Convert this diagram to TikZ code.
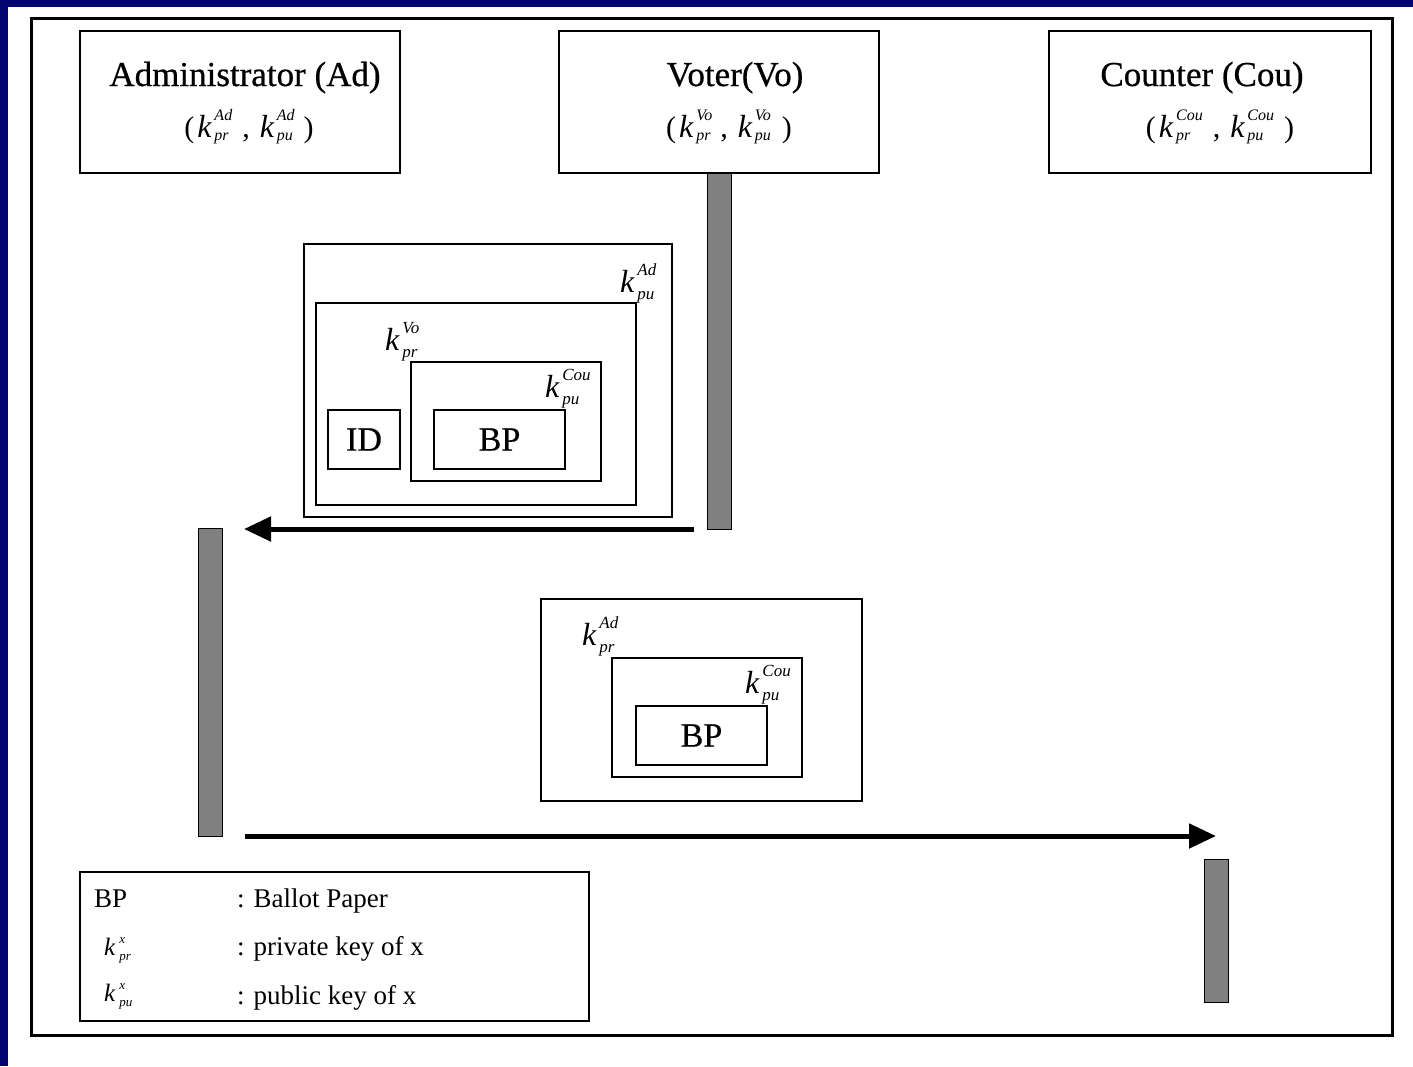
\documentclass[tikz,border=0pt]{standalone}
\usepackage{fontspec}
\setmainfont{Liberation Serif}
\newfontfamily\heavyserif[FakeBold=0.6]{Liberation Serif}
\usetikzlibrary{arrows.meta}
\definecolor{navy}{RGB}{5,5,112}
\definecolor{barGray}{RGB}{128,128,128}
% k with stacked super/subscript: #1 k size, #2 script size, #3 row gap, #4 lowering, #5 gap k-scripts, #6 sup, #7 sub
\newcommand\keyx[7]{{\fontsize{#1}{#1}\selectfont\itshape k}\hspace{#5pt}\raisebox{-#4pt}{\fontsize{#2}{#2}\selectfont\itshape\begin{tabular}[b]{@{}l@{}}#6\\[#3pt]#7\end{tabular}}}
\newcommand\hkey[2]{\keyx{32}{16}{4}{3}{3}{#1}{#2}}
\newcommand\bkey[2]{\keyx{32}{17}{7}{7}{3}{#1}{#2}}
\newcommand\lkey[2]{\keyx{25}{13}{4}{5}{4}{#1}{#2}}
\tikzset{
  panel/.style={draw, line width=1.6pt, inner sep=0pt},
  lifebar/.style={draw, line width=1pt, fill=barGray, inner sep=0pt, minimum width=24pt},
  msg/.style={line width=5pt, -{Triangle[length=27pt,width=24pt]}},
  title/.style={font=\heavyserif\fontsize{35}{40}\selectfont, inner sep=0pt, anchor=base},
  keyline/.style={font=\fontsize{30}{32}\selectfont, inner sep=0pt, anchor=base},
  keylabel/.style={inner sep=0pt, anchor=base west},
  boxtext/.style={font=\heavyserif\fontsize{34}{36}\selectfont, inner sep=0pt},
  legtext/.style={font=\fontsize{27}{30}\selectfont, inner sep=0pt, anchor=base west},
}
\begin{document}
\begin{tikzpicture}[x=1pt,y=-1pt]
\useasboundingbox (0,0) rectangle (1413,1066);
\fill[white] (0,0) rectangle (1413,1066);
\fill[navy] (0,0) rectangle (8,1066);
\fill[navy] (0,0) rectangle (1413,7);
\draw[line width=3pt] (31.5,18.5) rectangle (1392,1035.5);

% actors
\node[panel, minimum width=320pt, minimum height=142pt] (ad) at (240,102) {};
\node[panel, minimum width=320pt, minimum height=142pt] (vo) at (719,102) {};
\node[panel, minimum width=322pt, minimum height=142pt] (cou) at (1210,102) {};
\node[title] (adt) at (245,86) {Administrator (Ad)};
\node[title] (vot) at (735,86) {Voter(Vo)};
\node[title] (cout) at (1202,86) {Counter (Cou)};
\node[keyline] (adk) at (249,137) {(\hspace{3pt}\hkey{Ad}{pr}\hspace{10pt},\hspace{10pt}\hkey{Ad}{pu}\hspace{9pt})};
\node[keyline] (vok) at (729,137) {(\hspace{3pt}\hkey{Vo}{pr}\hspace{8pt},\hspace{10pt}\hkey{Vo}{pu}\hspace{11pt})};
\node[keyline] (couk) at (1220,137) {(\hspace{3pt}\hkey{Cou}{pr}\hspace{10pt},\hspace{10pt}\hkey{Cou}{pu}\hspace{10pt})};

% lifeline bars
\node[lifebar, minimum height=356pt] (vbar) at (719,351) {};
\node[lifebar, minimum height=308pt] (abar) at (210,682) {};
\node[lifebar, minimum height=143pt] (cbar) at (1216,930.5) {};

% first message (voter -> administrator)
\node[panel, minimum width=368pt, minimum height=273pt] (m1out) at (488,380.5) {};
\node[panel, minimum width=320pt, minimum height=202pt] (m1mid) at (476,404) {};
\node[panel, minimum width=190pt, minimum height=119pt] (m1in) at (506,421.5) {};
\node[panel, minimum width=72pt, minimum height=59pt] (id) at (364,439.5) {};
\node[panel, minimum width=131pt, minimum height=59pt] (bp1) at (499.5,439.5) {};
\node[boxtext] at (id.center) {ID};
\node[boxtext] at (bp1.center) {BP};
\node[keylabel] (k1) at (620,292) {\bkey{Ad}{pu}};
\node[keylabel] (k2) at (385,350) {\bkey{Vo}{pr}};
\node[keylabel] (k3) at (545,397) {\bkey{Cou}{pu}};

% second message (administrator -> counter)
\node[panel, minimum width=321pt, minimum height=202pt] (m2out) at (701.5,700) {};
\node[panel, minimum width=190pt, minimum height=119pt] (m2mid) at (707,717.5) {};
\node[panel, minimum width=131pt, minimum height=59pt] (bp2) at (701.5,735.5) {};
\node[boxtext] at (bp2.center) {BP};
\node[keylabel] (k4) at (582,645) {\bkey{Ad}{pr}};
\node[keylabel] (k5) at (745,693) {\bkey{Cou}{pu}};

% arrows
\coordinate (a1s) at (694,529);
\coordinate (a1e) at (244,529);
\coordinate (a2s) at (245,836);
\coordinate (a2e) at (1216,836);
\draw[msg] (a1s) -- (a1e);
\draw[msg] (a2s) -- (a2e);

% legend
\node[panel, minimum width=509pt, minimum height=149pt] (leg) at (334.5,946.5) {};
\node[legtext] (l1) at (94,907) {BP};
\node[legtext] (l1t) at (237,907) {: Ballot Paper};
\node[keylabel] (l2) at (104,955) {\lkey{x}{pr}};
\node[legtext] (l2t) at (237,955) {: private key of x};
\node[keylabel] (l3) at (104,1001) {\lkey{x}{pu}};
\node[legtext] (l3t) at (237,1004) {: public key of x};
\end{tikzpicture}
\end{document}
